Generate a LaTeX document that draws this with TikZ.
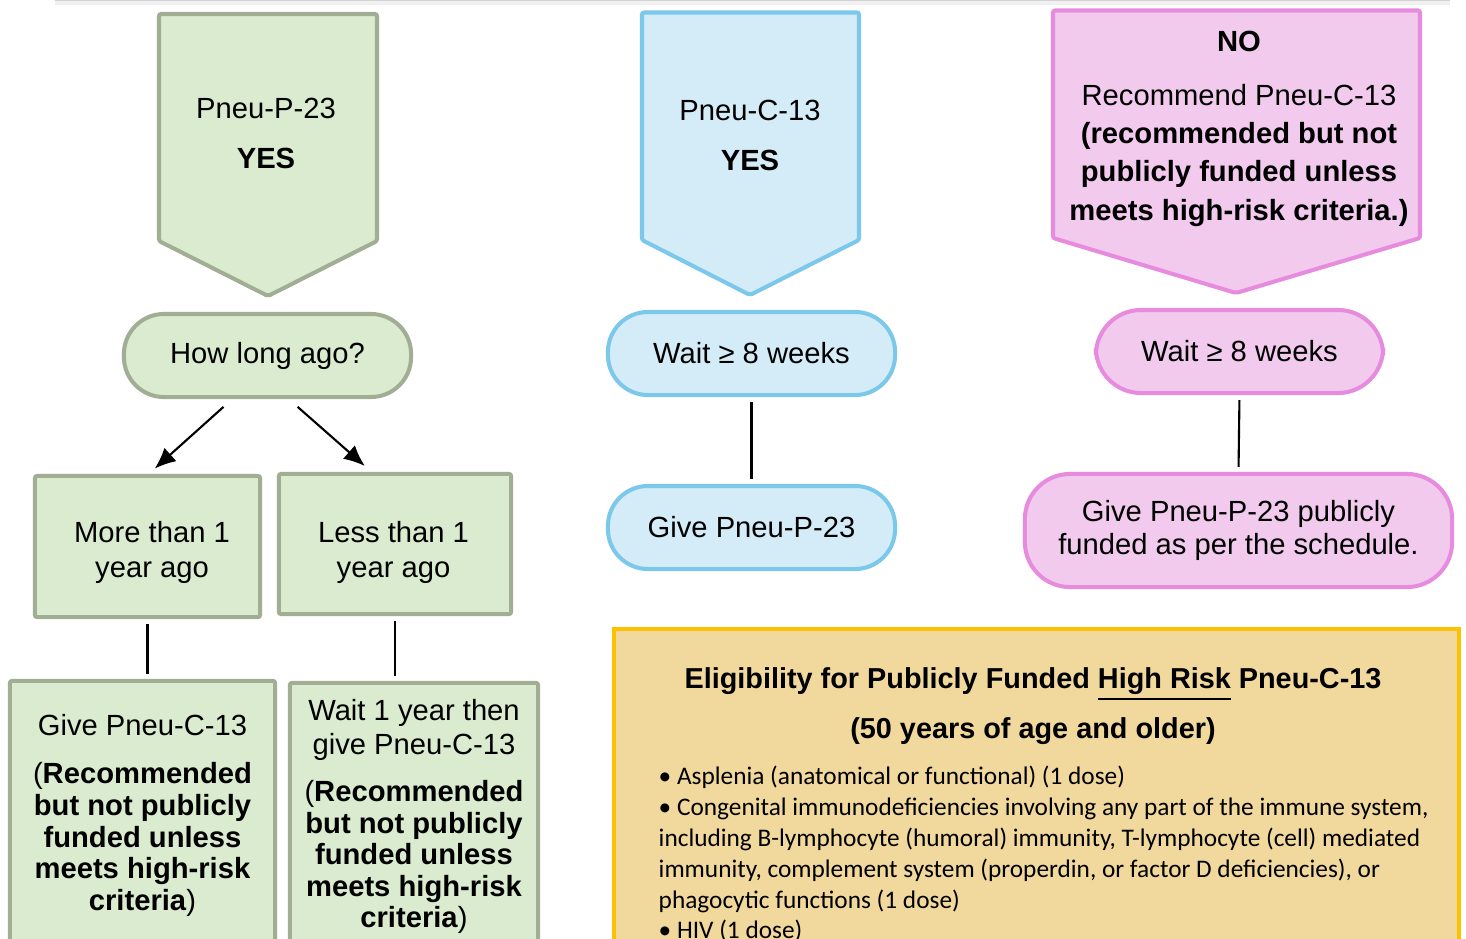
\documentclass[tikz,border=0pt]{standalone}
\usepackage{fontspec}
\setmainfont{Liberation Sans}
\newfontfamily\bulletfont{Carlito}
\usepackage{xcolor}
\usetikzlibrary{positioning, arrows.meta}

\definecolor{greenfill}{HTML}{DAEBCF}
\definecolor{greenline}{HTML}{A2AE94}
\definecolor{bluefill}{HTML}{D4ECF8}
\definecolor{blueline}{HTML}{7CC8EB}
\definecolor{pinkfill}{HTML}{F1CAEE}
\definecolor{pinkline}{HTML}{E78BDE}
\definecolor{tanfill}{HTML}{F1D99D}
\definecolor{tanline}{HTML}{FFC000}

\tikzset{
    flowtext/.style={font=\fontsize{8.3}{9.4}\selectfont, align=center},
    greenbox/.style={flowtext, draw=greenline, fill=greenfill, line width=1.15pt, rounded corners=0.6pt},
    greenround/.style={flowtext, draw=greenline, fill=greenfill, line width=1.15pt, rounded corners=0.4cm},
    blueround/.style={flowtext, draw=blueline, fill=bluefill, line width=1.15pt, rounded corners=0.4cm},
    pinkround/.style={flowtext, draw=pinkline, fill=pinkfill, line width=1.15pt, rounded corners=0.45cm},
    headshape/.style={line width=1.15pt, rounded corners=0.6pt},
    link/.style={line width=0.6pt, shorten <=0.05cm, shorten >=0.05cm},
    arrowlink/.style={line width=0.6pt, -{Latex[length=0.21cm, width=0.18cm]}}
}

\begin{document}
\begin{tikzpicture}[x=0.01cm, y=-0.01cm]
            \clip (0,0) rectangle (1466,939);
            \fill[white] (0,0) rectangle (1466,939);
            \draw[black!18, line width=0.05cm] (55,0.5) -- (1450,0.5);
            \draw[black!6, line width=0.04cm] (55,3) -- (1450,3);

            \draw[headshape, draw=greenline, fill=greenfill] (159,14) -- (377,14) -- (377,241) -- (268,296) -- (159,241) -- cycle;
            \draw[headshape, draw=blueline, fill=bluefill] (642,12.5) -- (859,12.5) -- (859,240) -- (750,295) -- (642,240) -- cycle;
            \draw[headshape, draw=pinkline, fill=pinkfill] (1053,10.5) -- (1420,10.5) -- (1420,238) -- (1236,293) -- (1053,238) -- cycle;

            \node[flowtext] (p23yes) at (266,133) {Pneu-P-23\\[4.8pt]\textbf{YES}};
            \node[flowtext] (c13yes) at (750,135.5) {Pneu-C-13\\[4.8pt]\textbf{YES}};
            \node[flowtext] (nohead) at (1239,128.5) {\textbf{NO}\\[6pt]Recommend Pneu-C-13\\[1.5pt]\textbf{(recommended but not}\\[1.5pt]\textbf{publicly funded unless}\\[1.5pt]\textbf{meets high-risk criteria.)}};

            \node[greenround, minimum width=2.87cm, minimum height=0.83cm] (howlong) at (267.5,355.5) {How long ago?};
            \node[greenbox, minimum width=2.25cm, minimum height=1.41cm] (morethan) at (147.5,546.5) {};
            \node[flowtext] (moretext) at (152,552.5) {More than 1\\[0.6pt]year ago};
            \node[greenbox, minimum width=2.32cm, minimum height=1.40cm] (lessthan) at (395,544) {};
            \node[flowtext] (lesstext) at (393.5,552.5) {Less than 1\\[0.6pt]year ago};
            \node[greenbox, font=\fontsize{8.3}{9}\selectfont, minimum width=2.65cm, minimum height=2.69cm] (givec13) at (142.5,815.5) {Give Pneu-C-13\\[4.7pt](\textbf{Recommended}\\\textbf{but not publicly}\\\textbf{funded unless}\\\textbf{meets high-risk}\\\textbf{criteria})};
            \node[greenbox, font=\fontsize{8.3}{9}\selectfont, minimum width=2.48cm, minimum height=2.67cm] (waitc13) at (414,816.5) {Wait 1 year then\\[0.7pt]give Pneu-C-13\\[4.4pt](\textbf{Recommended}\\\textbf{but not publicly}\\\textbf{funded unless}\\\textbf{meets high-risk}\\\textbf{criteria})};

            \node[blueround, minimum width=2.87cm, minimum height=0.83cm] (bluewait) at (751.5,353.5) {Wait ≥ 8 weeks};
            \node[blueround, minimum width=2.87cm, minimum height=0.83cm] (bluegive) at (751.5,527.5) {Give Pneu-P-23};

            \node[pinkround, minimum width=2.87cm, minimum height=0.83cm] (pinkwait) at (1239.5,351.5) {Wait ≥ 8 weeks};
            \node[pinkround, minimum width=4.27cm, minimum height=1.13cm] (pinkgive) at (1238.5,530.5) {Give Pneu-P-23 publicly\\funded as per the schedule.};

            \node[draw=tanline, fill=tanfill, line width=1.15pt, minimum width=8.45cm, minimum height=3.71cm] (elig) at (1036.5,814.5) {};
            \node[flowtext, font=\bfseries\fontsize{8.2}{9.4}\selectfont] (eligtitle) at (1033,706) {Eligibility for Publicly Funded \underline{High Risk} Pneu-C-13\\[3.7pt](50 years of age and older)};
            \node[anchor=north west, inner sep=0pt, align=left, font=\bulletfont\fontsize{7.2}{8.8}\selectfont] (eliglist) at (658,765) {• Asplenia (anatomical or functional) (1 dose)\\
• Congenital immunodeficiencies involving any part of the immune system,\\
including B-lymphocyte (humoral) immunity, T-lymphocyte (cell) mediated\\
immunity, complement system (properdin, or factor D deficiencies), or\\
phagocytic functions (1 dose)\\
• HIV (1 dose)};

            \draw[arrowlink, shorten <=0.117cm, shorten >=0.08cm] (howlong.231) -- (morethan.89);
            \draw[arrowlink, shorten <=0.118cm, shorten >=0.09cm] (howlong.296.6) -- (lessthan.108.4);
            \draw[link] (morethan.south) -- (morethan.south |- givec13.north);
            \draw[link] (lessthan.south) -- (lessthan.south |- waitc13.north);
            \draw[link] (bluewait.south) -- (bluegive.north);
            \draw[link] (pinkwait.south) -- (pinkgive.north);
        \end{tikzpicture}
\end{document}
